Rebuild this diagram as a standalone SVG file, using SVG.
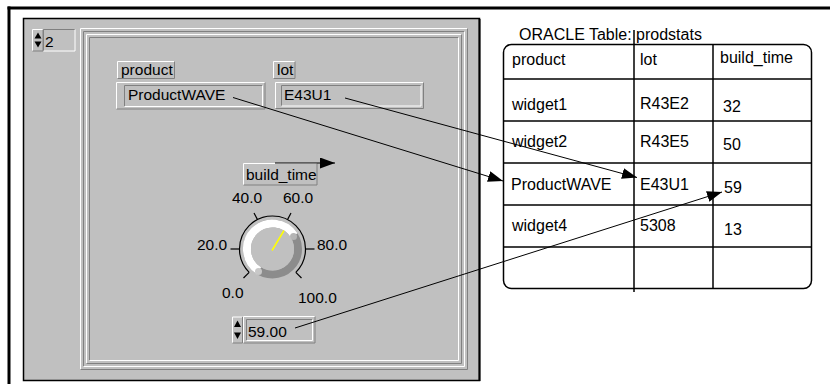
<svg xmlns="http://www.w3.org/2000/svg" width="830" height="384" viewBox="0 0 830 384">
  <defs>
    <style>
      .t { font-family: "Liberation Sans", Arial, sans-serif; font-size: 15.5px; fill: #000; }
      .tt { font-family: "Liberation Sans", Arial, sans-serif; font-size: 16px; fill: #000; }
      .hi { fill: none; stroke: #ffffff; stroke-width: 1; }
      .sh { fill: none; stroke: #808080; stroke-width: 1; }
      .face { fill: #c0c0c0; }
      .grid { fill: none; stroke: #000; stroke-width: 1.5; }
      .wire { fill: none; stroke: #000; stroke-width: 1; marker-end: url(#arrowhead); }
      .tick { stroke: #000; stroke-width: 1.2; }
    </style>
    <marker id="arrowhead" markerWidth="15" markerHeight="11" refX="15" refY="5.5" orient="auto" markerUnits="userSpaceOnUse">
      <path d="M0,0 L15,5.5 L0,11 z" fill="#000"/>
    </marker>
  </defs>

  <rect width="830" height="384" fill="#fff"/>

  <!-- page border (top and left rules) -->
  <g id="page-border">
    <rect x="7.5" y="6.5" width="822.5" height="3" fill="#000"/>
    <rect x="7.5" y="6.5" width="3" height="377.5" fill="#000"/>
  </g>

  <!-- front panel -->
  <g id="front-panel">
    <rect x="23.5" y="18.5" width="456" height="362" fill="#c0c0c0" stroke="#000" stroke-width="1.5"/>
    <line x1="479.5" y1="19" x2="479.5" y2="381" stroke="#000" stroke-width="2"/>
    <!-- raised double frame of the cluster -->
    <path class="hi" d="M80.5,369.5 V28.5 H467.5"/>
    <path class="sh" d="M80.5,369.5 H467.5 V28.5"/>
    <path class="sh" d="M83.5,366.5 V31.5 H464.5"/>
    <path class="hi" d="M83.5,366.5 H464.5 V31.5"/>
    <path class="hi" d="M86.5,363.5 V34.5 H461.5"/>
    <path class="sh" d="M86.5,363.5 H461.5 V34.5"/>
    <path class="sh" d="M89.5,360.5 V37.5 H458.5"/>
    <path class="hi" d="M89.5,360.5 H458.5 V37.5"/>
  </g>

  <!-- array index control -->
  <g id="array-index">
    <rect class="face" x="32.5" y="29.5" width="10.5" height="21.5"/>
    <path class="hi" d="M32.5,51 V29.5 H43"/>
    <path class="sh" d="M32.5,51 H43 V29.5"/>
    <path d="M34.5,38.5 H41.5 L38,32.5 z" fill="#000"/>
    <path d="M34.5,41.5 H41.5 L38,47.5 z" fill="#000"/>
    <rect class="face" x="43.5" y="29.5" width="31.5" height="21.5"/>
    <path class="sh" d="M43.5,51 V29.5 H75"/>
    <path class="hi" d="M43.5,51 H75 V29.5"/>
    <text class="t" x="45" y="47">2</text>
  </g>

  <!-- product string control -->
  <g id="ctrl-product">
    <rect class="face" x="117.5" y="61.5" width="57" height="17"/>
    <path class="hi" d="M117.5,78.5 V61.5 H174.5"/>
    <path class="sh" d="M117.5,78.5 H174.5 V61.5"/>
    <text class="t" x="121" y="75">product</text>
    <rect class="face" x="116.5" y="82.5" width="148.5" height="26.5"/>
    <path class="hi" d="M116.5,109 V82.5 H265"/>
    <path class="sh" d="M116.5,109 H265 V82.5"/>
    <path class="sh" d="M124.5,106.5 V85.5 H262.5"/>
    <path class="hi" d="M124.5,106.5 H262.5 V85.5"/>
    <text class="t" x="128" y="100">ProductWAVE</text>
  </g>

  <!-- lot string control -->
  <g id="ctrl-lot">
    <rect class="face" x="273.5" y="61.5" width="21.5" height="17"/>
    <path class="hi" d="M273.5,78.5 V61.5 H295"/>
    <path class="sh" d="M273.5,78.5 H295 V61.5"/>
    <text class="t" x="277" y="75">lot</text>
    <rect class="face" x="275.5" y="82.5" width="148" height="26"/>
    <path class="hi" d="M275.5,108.5 V82.5 H423.5"/>
    <path class="sh" d="M275.5,108.5 H423.5 V82.5"/>
    <path class="sh" d="M281.5,106 V85.5 H421"/>
    <path class="hi" d="M281.5,106 H421 V85.5"/>
    <text class="t" x="284" y="100">E43U1</text>
  </g>

  <!-- build_time knob -->
  <g id="knob-build-time">
    <rect class="face" x="243.5" y="163.5" width="73.5" height="21.5"/>
    <path class="hi" d="M243.5,185 V163.5 H317"/>
    <path class="sh" d="M243.5,185 H317 V163.5"/>
    <text class="t" x="246" y="180">build_time</text>

    <!-- scale -->
    <path d="M249.17,272.33 A33,33 0 1 1 295.83,272.33" fill="none" stroke="#000" stroke-width="1.2"/>
    <line class="tick" x1="249.17" y1="272.33" x2="243.5" y2="278"/>
    <line class="tick" x1="239.5" y1="249" x2="230.5" y2="249"/>
    <line class="tick" x1="257.5" y1="219.6" x2="254" y2="213"/>
    <line class="tick" x1="287.5" y1="219.6" x2="291" y2="213"/>
    <line class="tick" x1="305.5" y1="249" x2="314.5" y2="249"/>
    <line class="tick" x1="295.83" y1="272.33" x2="301.5" y2="278"/>
    <text class="t" x="232" y="203">40.0</text>
    <text class="t" x="283" y="203">60.0</text>
    <text class="t" x="197" y="250">20.0</text>
    <text class="t" x="317" y="250">80.0</text>
    <text class="t" x="222" y="298">0.0</text>
    <text class="t" x="298" y="303">100.0</text>

    <!-- knob body -->
    <circle cx="272.5" cy="249" r="25.5" fill="none" stroke="#8c8c8c" stroke-width="8"/>
    <path d="M258.99,270.62 A25.5,25.5 0 1 1 294.12,235.49" fill="none" stroke="#ffffff" stroke-width="8"/>
    <circle cx="293.5" cy="236.5" r="3.5" fill="#b4b4b4"/>
    <circle cx="258.5" cy="271.5" r="3.5" fill="#c8c8c8"/>
    <circle cx="272.5" cy="249" r="21.5" fill="#c0c0c0"/>
    <line x1="272" y1="250.5" x2="284" y2="230.5" stroke="#ffff00" stroke-width="1.5"/>
  </g>

  <!-- build_time digital display -->
  <g id="ctrl-build-time-digital">
    <rect class="face" x="232.5" y="317" width="10" height="26"/>
    <path class="hi" d="M232.5,343 V317 H242.5"/>
    <path class="sh" d="M232.5,343 H242.5 V317"/>
    <path d="M234,327 H241 L237.5,320.5 z" fill="#000"/>
    <path d="M234,332.5 H241 L237.5,339 z" fill="#000"/>
    <rect class="face" x="243.5" y="316.5" width="71.5" height="26.5"/>
    <path class="hi" d="M243.5,343 V316.5 H315"/>
    <path class="sh" d="M243.5,343 H315 V316.5"/>
    <path class="sh" d="M246.5,340.5 V319.5 H312.5"/>
    <path class="hi" d="M246.5,340.5 H312.5 V319.5"/>
    <text class="t" x="248" y="337">59.00</text>
  </g>

  <!-- ORACLE table -->
  <g id="table-prodstats">
    <text class="tt" x="519" y="40">ORACLE Table:  prodstats</text>
    <rect x="503.5" y="44.5" width="308" height="244" rx="8" ry="8" fill="#fff" stroke="#000" stroke-width="1.5"/>
    <line class="grid" x1="634" y1="30" x2="634" y2="292"/>
    <line class="grid" x1="713" y1="44.5" x2="713" y2="288.5"/>
    <line class="grid" x1="503.5" y1="79" x2="811.5" y2="79"/>
    <line class="grid" x1="503.5" y1="121" x2="811.5" y2="121"/>
    <line class="grid" x1="503.5" y1="163" x2="811.5" y2="163"/>
    <line class="grid" x1="503.5" y1="205" x2="811.5" y2="205"/>
    <line class="grid" x1="503.5" y1="247" x2="811.5" y2="247"/>

    <text class="tt" x="512" y="65">product</text>
    <text class="tt" x="640" y="65">lot</text>
    <text class="tt" x="720" y="63">build_time</text>

    <text class="tt" x="512" y="110">widget1</text>
    <text class="tt" x="640" y="109">R43E2</text>
    <text class="tt" x="723" y="112">32</text>

    <text class="tt" x="512" y="147">widget2</text>
    <text class="tt" x="640" y="147">R43E5</text>
    <text class="tt" x="723" y="150">50</text>

    <text class="tt" x="511" y="190">ProductWAVE</text>
    <text class="tt" x="640" y="190">E43U1</text>
    <text class="tt" x="724" y="193">59</text>

    <text class="tt" x="512" y="231">widget4</text>
    <text class="tt" x="640" y="231">5308</text>
    <text class="tt" x="724" y="235">13</text>
  </g>

  <!-- connectors -->
  <g id="connectors">
    <line class="wire" x1="233" y1="97.5" x2="503" y2="181"/>
    <line class="wire" x1="345" y1="98" x2="637" y2="177.5"/>
    <line class="wire" x1="295" y1="328" x2="722" y2="192"/>
    <line class="wire" x1="275" y1="163" x2="335" y2="163"/>
  </g>
</svg>
